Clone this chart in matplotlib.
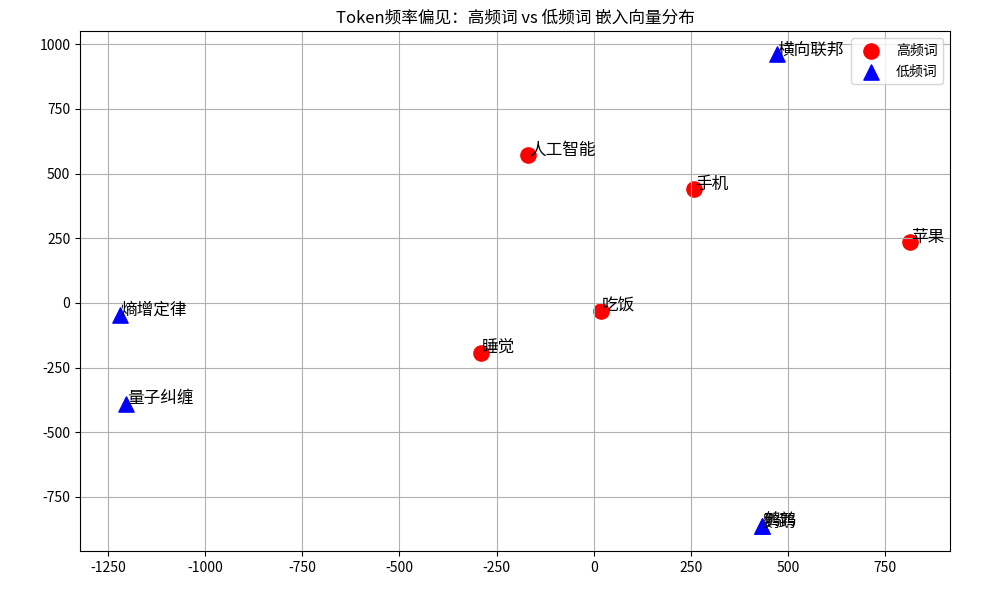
import matplotlib
matplotlib.use("Agg")
import matplotlib.pyplot as plt

plt.rcParams['font.family'] = ['Noto Sans CJK SC', 'DejaVu Sans']
plt.rcParams['axes.unicode_minus'] = False

high_words = ["人工智能", "手机", "苹果", "吃饭", "睡觉"]
high_x = [-170, 257, 813, 18, -291]
high_y = [571, 440, 235, -31, -193]

low_words = ["横向联邦", "熵增定律", "量子纠缠", "鹦鹉", "鹌鹑"]
low_x = [471, -1220, -1204, 432, 434]
low_y = [960, -46, -390, -864, -862]

fig, ax = plt.subplots(figsize=(10, 6), dpi=100)
ax.scatter(high_x, high_y, c='red', s=120, marker='o', label='高频词')
ax.scatter(low_x, low_y, c='blue', s=120, marker='^', label='低频词')

for w, x, y in zip(high_words + low_words, high_x + low_x, high_y + low_y):
    ax.text(x + 3, y + 0, w, fontsize=12)

ax.set_title('Token频率偏见：高频词 vs 低频词 嵌入向量分布')
ax.legend(loc='upper right')
ax.grid(True)
ax.set_xlim(-1322, 917)
ax.set_ylim(-958, 1050)
fig.subplots_adjust(left=0.08, right=0.95, top=0.948, bottom=0.082)
fig.savefig('out.png')
